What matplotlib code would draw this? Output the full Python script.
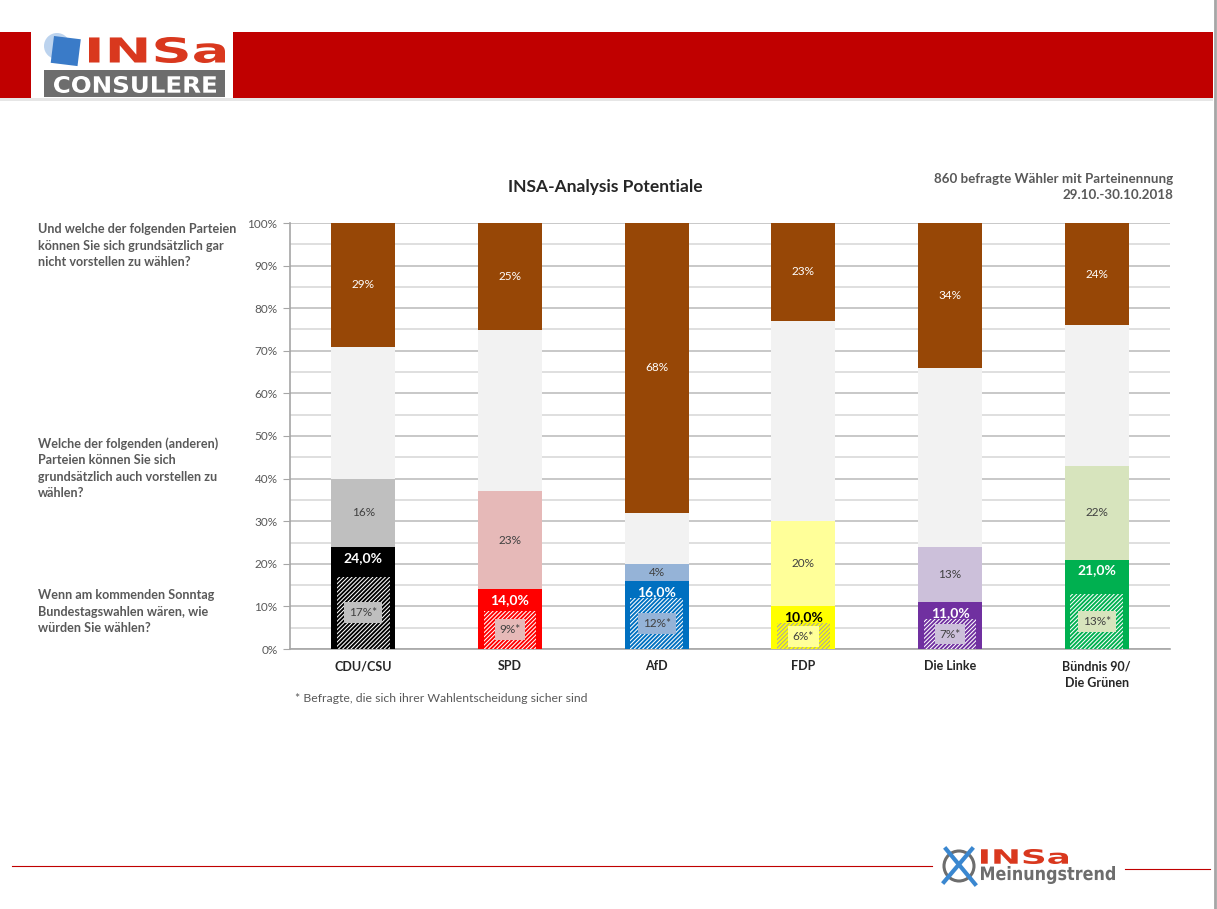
import numpy as np
import matplotlib
matplotlib.use("Agg")
import matplotlib.pyplot as plt
from matplotlib.patches import Rectangle, Circle, PathPatch
from matplotlib.textpath import TextPath
from matplotlib.font_manager import FontProperties
from matplotlib.transforms import Affine2D
from matplotlib.lines import Line2D

# chart data
parties = ["CDU/CSU", "SPD", "AfD", "FDP", "Die Linke", "Bündnis 90/\nDie Grünen"]
vote = [24.0, 14.0, 16.0, 10.0, 11.0, 21.0]        # Sonntagsfrage
sure = [17, 9, 12, 6, 7, 13]                        # sichere Wähler
potential = [16, 23, 4, 20, 13, 22]                 # auch vorstellbar
reject = [29, 25, 68, 23, 34, 24]                   # gar nicht vorstellbar
yticks = [0, 10, 20, 30, 40, 50, 60, 70, 80, 90, 100]

vote_colors = ["#000000", "#ff0000", "#0070c0", "#ffff00", "#7030a0", "#00b050"]
pot_colors = ["#bfbfbf", "#e6b9b8", "#95b3d7", "#ffff99", "#ccc0da", "#d7e4bd"]
hatch_colors = ["white", "white", "white", "#a6a6a6", "white", "white"]
vote_text = ["white", "white", "white", "black", "white", "white"]

plt.rcParams['font.family'] = ['Lato', 'DejaVu Sans']
plt.rcParams['hatch.linewidth'] = 0.75

W, H = 1217, 909
fig = plt.figure(figsize=(W / 100, H / 100), dpi=100)
# pixel transform, origin top-left like the screenshot
T = Affine2D().scale(1 / W, -1 / H).translate(0, 1) + fig.transFigure


def rect(x0, y0, x1, y1, color, z=1):
    fig.patches.append(Rectangle((x0, y0), x1 - x0, y1 - y0, transform=T,
                                 facecolor=color, edgecolor='none', zorder=z))


def line(x0, y0, x1, y1, color, lw, z=2):
    fig.lines.append(Line2D([x0, x1], [y0, y1], transform=T, color=color, lw=lw, zorder=z))


def fit_text(s, x0, y0, x1, y1, color, weight='bold', family='DejaVu Sans', z=3):
    # text squeezed into a pixel box (logos)
    tp = TextPath((0, 0), s, size=10, prop=FontProperties(family=family, weight=weight))
    ext = tp.get_extents()
    sx = (x1 - x0) / ext.width
    sy = (y1 - y0) / ext.height
    tr = Affine2D().translate(-ext.x0, -ext.y0).scale(sx, -sy).translate(x0, y1) + T
    fig.patches.append(PathPatch(tp, transform=tr, facecolor=color, edgecolor='none', zorder=z))


# header band with logo
rect(0, 32, 1213, 98, "#c00000")
rect(0, 98, 1213, 101, "#e6e6e6")
rect(31, 32, 233, 98, "white", 2)
fig.patches.append(Circle((57, 46), 13, transform=T, facecolor="#bcd3ee",
                          edgecolor='none', zorder=3))
sq = Rectangle((0, 0), 1, 1, facecolor="#3a7bc8", edgecolor='none', zorder=4)
sq.set_transform(Affine2D().scale(27).rotate_deg(7).translate(54, 36) + T)
fig.patches.append(sq)
fit_text("INSa", 89, 37, 225, 63, "#d9381e")
rect(44, 70, 225, 97, "#6d6d6d", 3)
fit_text("CONSULERE", 54, 76, 216, 93, "white", z=4)
line(1215, 0, 1215, H, "#a6a6a6", 2)

# footer
line(12, 866, 932, 866, "#c00000", 0.8)
line(1125, 869, 1210, 869, "#c00000", 0.8)
fig.patches.append(Circle((959, 866), 15, transform=T, facecolor='none',
                          edgecolor="#6d6d6d", lw=2.2, zorder=3))
line(946, 849, 975, 884, "#3a87d0", 3, 4)
line(944, 882, 972, 849, "#3a87d0", 3, 4)
fit_text("INSa", 981, 849, 1068, 864, "#d9381e")
fit_text("Meinungstrend", 981, 866, 1115, 884, "#6d6d6d")

# chart
ax = fig.add_axes([290 / W, 1 - 649 / H, 880 / W, 426 / H])
x = np.arange(len(parties))
bw = 0.436
vote_a = np.array(vote)
pot_a = np.array(potential)
rej_a = np.array(reject)
neutral_bottom = vote_a + pot_a
neutral = 100 - rej_a - neutral_bottom

ax.bar(x, vote_a, bw, color=vote_colors, zorder=3)
ax.bar(x, pot_a, bw, bottom=vote_a, color=pot_colors, zorder=3)
ax.bar(x, neutral, bw, bottom=neutral_bottom, color="#f2f2f2", zorder=3)
ax.bar(x, rej_a, bw, bottom=100 - rej_a, color="#974706", zorder=3)
for i in x:
    ax.bar(i, sure[i], 0.36, color=vote_colors[i], edgecolor=hatch_colors[i],
           hatch='////////', linewidth=0, zorder=4)

for i in x:
    ax.text(i, 100 - reject[i] / 2, f"{reject[i]}%", ha='center', va='center',
            color='white', fontsize=8.5, zorder=5)
    ax.text(i, vote[i] + potential[i] / 2, f"{potential[i]}%", ha='center', va='center',
            color='#404040', fontsize=8.5, zorder=5)
    ax.annotate(f"{vote[i]:.1f}".replace('.', ',') + "%", (i, vote[i]), xytext=(0, -3.5),
                textcoords='offset points', ha='center', va='top', color=vote_text[i],
                fontsize=10, fontweight='bold', zorder=5)
    ax.text(i, sure[i] / 2, f"{sure[i]}%*", ha='center', va='center', color='#404040',
            fontsize=8.5, zorder=6,
            bbox=dict(facecolor=pot_colors[i], edgecolor='none', pad=3.5))

ax.set_xlim(-0.5, len(parties) - 0.5)
ax.set_ylim(0, 100)
ax.set_yticks(yticks)
ax.set_yticklabels([f"{t}%" for t in yticks])
ax.set_yticks(np.arange(5, 100, 10), minor=True)
ax.set_xticks(x)
ax.set_xticklabels(parties, fontweight='bold', fontsize=9, color='#262626', linespacing=1.45)
ax.tick_params(axis='x', length=0, pad=8)
ax.tick_params(axis='y', which='major', length=5, color='#a6a6a6', labelsize=8.5,
               labelcolor='#595959', pad=4)
ax.tick_params(axis='y', which='minor', length=0)
ax.grid(axis='y', which='major', color='#bfbfbf', lw=1.2, zorder=0)
ax.grid(axis='y', which='minor', color='#d9d9d9', lw=1.2, zorder=0)
ax.set_axisbelow(True)
for s in ['top', 'right']:
    ax.spines[s].set_visible(False)
for s in ['left', 'bottom']:
    ax.spines[s].set_color('#a6a6a6')
    ax.spines[s].set_linewidth(1.2)

# texts
fig.text(605 / W, 1 - 187 / H, "INSA-Analysis Potentiale", ha='center', va='center',
         fontsize=12.5, fontweight='bold', color='#262626')
fig.text(1173 / W, 1 - 187 / H, "860 befragte Wähler mit Parteinennung\n29.10.-30.10.2018",
         ha='right', va='center', fontsize=9.6, fontweight='bold', color='#595959',
         multialignment='right', linespacing=1.35)
txt_kw = dict(ha='left', va='top', fontsize=9.1, fontweight='bold', color='#595959',
              linespacing=1.45)
fig.text(38 / W, 1 - 223 / H, "Und welche der folgenden Parteien\nkönnen Sie sich grundsätzlich gar\n"
         "nicht vorstellen zu wählen?", **txt_kw)
fig.text(38 / W, 1 - 437 / H, "Welche der folgenden (anderen)\nParteien können Sie sich\n"
         "grundsätzlich auch vorstellen zu\nwählen?", **txt_kw)
fig.text(38 / W, 1 - 589 / H, "Wenn am kommenden Sonntag\nBundestagswahlen wären, wie\n"
         "würden Sie wählen?", **txt_kw)
fig.text(295 / W, 1 - 699 / H, "* Befragte, die sich ihrer Wahlentscheidung sicher sind",
         ha='left', va='center', fontsize=8.8, color='#595959')

fig.savefig("out.png", dpi=100)
